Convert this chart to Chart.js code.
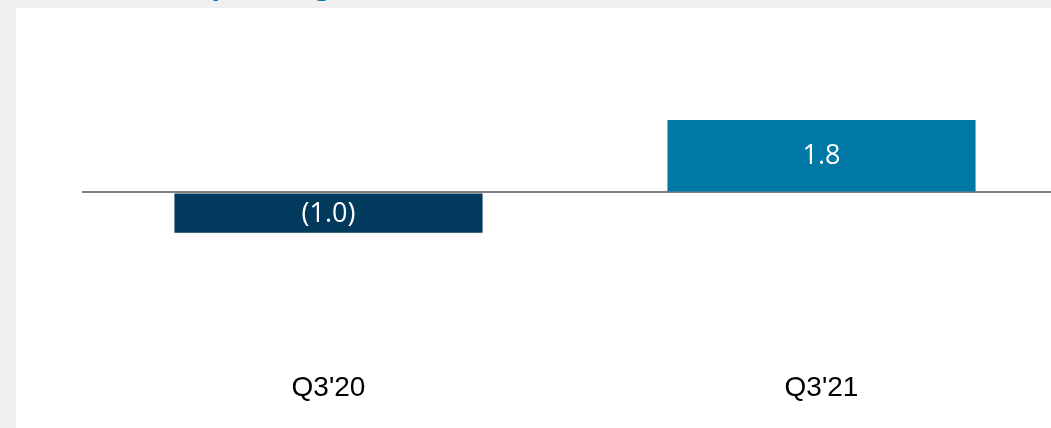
<!DOCTYPE html>
<html>
<head>
<meta charset="utf-8">
<script src="https://cdn.jsdelivr.net/npm/chart.js@4"></script>
<style>
    html, body { margin: 0; padding: 0; }
    body { width: 1051px; height: 428px; background: #f0f0f0; overflow: hidden; position: relative; }
    #title { position: absolute; left: 189px; top: -33px; font: bold 28px "Open Sans", sans-serif; color: #0078a5; line-height: 32px; white-space: nowrap; }
    #panel { position: absolute; left: 16px; top: 8px; width: 1100px; height: 420px; background: #fff; }
    #wrap { position: absolute; left: 0; top: 0; width: 1052px; height: 420px; }
</style>
</head>
<body>
<div id="title">Operating (Loss)</div>
<div id="panel">
    <div id="wrap"><canvas id="chart"></canvas></div>
</div>
<script>
const categories = ["Q3'20", "Q3'21"];
const values = [-1.0, 1.8];
const valueLabels = ["(1.0)", "1.8"];
const barColors = ['#023a5d', '#0078a5'];

// write the value in the middle of each bar
const barText = {
    id: 'barText',
    afterDatasetsDraw(chart) {
        const c = chart.ctx;
        const meta = chart.getDatasetMeta(0);
        c.save();
        c.fillStyle = '#ffffff';
        c.font = '27px "Open Sans", sans-serif';
        c.textAlign = 'center';
        c.textBaseline = 'middle';
        meta.data.forEach((bar, i) => {
            c.fillText(valueLabels[i], bar.x, (bar.y + bar.base) / 2 + 1);
        });
        c.restore();
    }
};

new Chart(document.getElementById('chart'), {
    type: 'bar',
    data: {
        labels: categories,
        datasets: [{
            data: values,
            backgroundColor: barColors,
            categoryPercentage: 1,
            barPercentage: 0.625
        }]
    },
    options: {
        responsive: true,
        maintainAspectRatio: false,
        animation: false,
        layout: { padding: { left: 66, right: 0, top: 23.5, bottom: 23 } },
        plugins: { legend: { display: false }, tooltip: { enabled: false } },
        scales: {
            x: {
                grid: { display: false },
                border: { display: false },
                ticks: { color: '#000', font: { family: '"Liberation Sans", Arial', size: 28 }, padding: 0 }
            },
            y: {
                min: -4.25,
                max: 4,
                afterFit: s => { s.width = 0; },
                ticks: { display: false, stepSize: 0.25 },
                border: { display: false },
                grid: {
                    drawTicks: false,
                    color: c => c.tick.value === 0 ? '#808080' : 'rgba(0,0,0,0)',
                    lineWidth: c => c.tick.value === 0 ? 2 : 0
                }
            }
        }
    },
    plugins: [barText]
});
</script>
</body>
</html>
